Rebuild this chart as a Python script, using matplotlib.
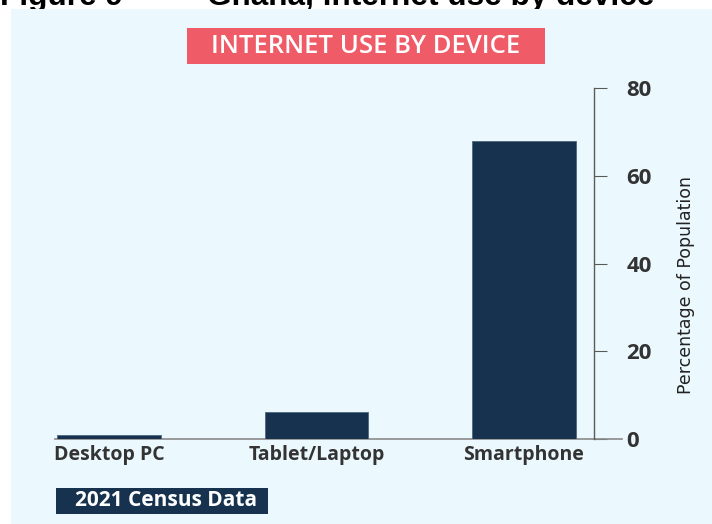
import matplotlib.pyplot as plt
from matplotlib.patches import Rectangle

W, H = 712, 524

categories = ["Desktop PC", "Tablet/Laptop", "Smartphone"]
values = [1.0, 6.2, 68.0]
yticks = [0, 20, 40, 60, 80]

title = "INTERNET USE BY DEVICE"
caption_num = "Figure 9"
caption_txt = "Ghana, internet use by device"
ylabel = "Percentage of Population"
source = "2021 Census Data"

NAVY = "#17324f"
RED = "#ef5b67"
PANEL = "#ebf9fe"
TEXT = "#333333"


def px(x, y):
    # pixel coords (top-left origin) -> figure fraction
    return x / W, 1 - y / H


fig = plt.figure(figsize=(W / 100, H / 100), dpi=100)
fig.patch.set_facecolor("white")

# caption, cut off by the top edge as in the source page
fig.text(*px(0, 5), caption_num, fontsize=22.7, fontweight="bold",
         family="Liberation Sans", va="baseline", ha="left", zorder=0)
fig.text(*px(207, 5), caption_txt, fontsize=22.7, fontweight="bold",
         family="Liberation Sans", va="baseline", ha="left", zorder=0)

# light blue panel
fig.patches.append(Rectangle(px(11, H), (W - 11) / W, (H - 9) / H,
                             transform=fig.transFigure, facecolor=PANEL,
                             edgecolor="none", zorder=1))

# title box
fig.patches.append(Rectangle(px(187, 64), (545 - 187) / W, (64 - 28) / H,
                             transform=fig.transFigure, facecolor=RED,
                             edgecolor="none", zorder=2))
fig.text(*px(366, 46.5), title, fontsize=18.5, fontweight="semibold",
         family="Open Sans", color="white", ha="center", va="center", zorder=3)

# source box
fig.patches.append(Rectangle(px(56, 514), (268 - 56) / W, (514 - 488) / H,
                             transform=fig.transFigure, facecolor=NAVY,
                             edgecolor="none", zorder=2))
fig.text(*px(166, 501), source, fontsize=15, fontweight="bold",
         family="Open Sans", color="white", ha="center", va="center", zorder=3)

# axes: x from 55 to 594 px, y 0 at 439 px, 80 at 88.3 px
left, right = 55, 594
top, bottom = 88.3, 439
ax = fig.add_axes([left / W, 1 - bottom / H, (right - left) / W, (bottom - top) / H])
ax.set_zorder(4)
ax.patch.set_alpha(0)

xs = list(range(len(categories)))
ax.bar(xs, values, width=0.5, color=NAVY, edgecolor="#50667a", linewidth=0.6, zorder=3)

spacing = 207.5
ax.set_xlim((left - 109) / spacing, (right - 109) / spacing)
ax.set_ylim(0, 80)

for s in ["top", "left", "bottom"]:
    ax.spines[s].set_visible(False)
ax.spines["right"].set_color("#5a5a5a")
ax.spines["right"].set_linewidth(1)

# baseline runs past the vertical axis
ax.axhline(0, xmin=0, xmax=(622 - left) / (right - left), color="#8a8a8a",
           linewidth=1.2, clip_on=False, zorder=2)

ax.yaxis.tick_right()
ax.set_yticks(yticks)
ax.set_yticklabels([str(t) for t in yticks])
ax.tick_params(axis="y", direction="out", length=9.5, width=0.8, color="#5a5a5a",
               pad=14, labelsize=16, labelcolor=TEXT)
for lab in ax.get_yticklabels():
    lab.set_fontweight("bold")
    lab.set_family("Open Sans")

ax.set_xticks(xs)
ax.set_xticklabels(categories)
ax.tick_params(axis="x", length=0, pad=4, labelsize=14, labelcolor=TEXT)
for lab in ax.get_xticklabels():
    lab.set_fontweight("bold")
    lab.set_family("Open Sans")

fig.text(*px(686, 285), ylabel, rotation=90, fontsize=12.5, family="DejaVu Sans",
         color="#222222", ha="center", va="center", zorder=3)

fig.savefig("out.png", dpi=100, facecolor=fig.get_facecolor())
